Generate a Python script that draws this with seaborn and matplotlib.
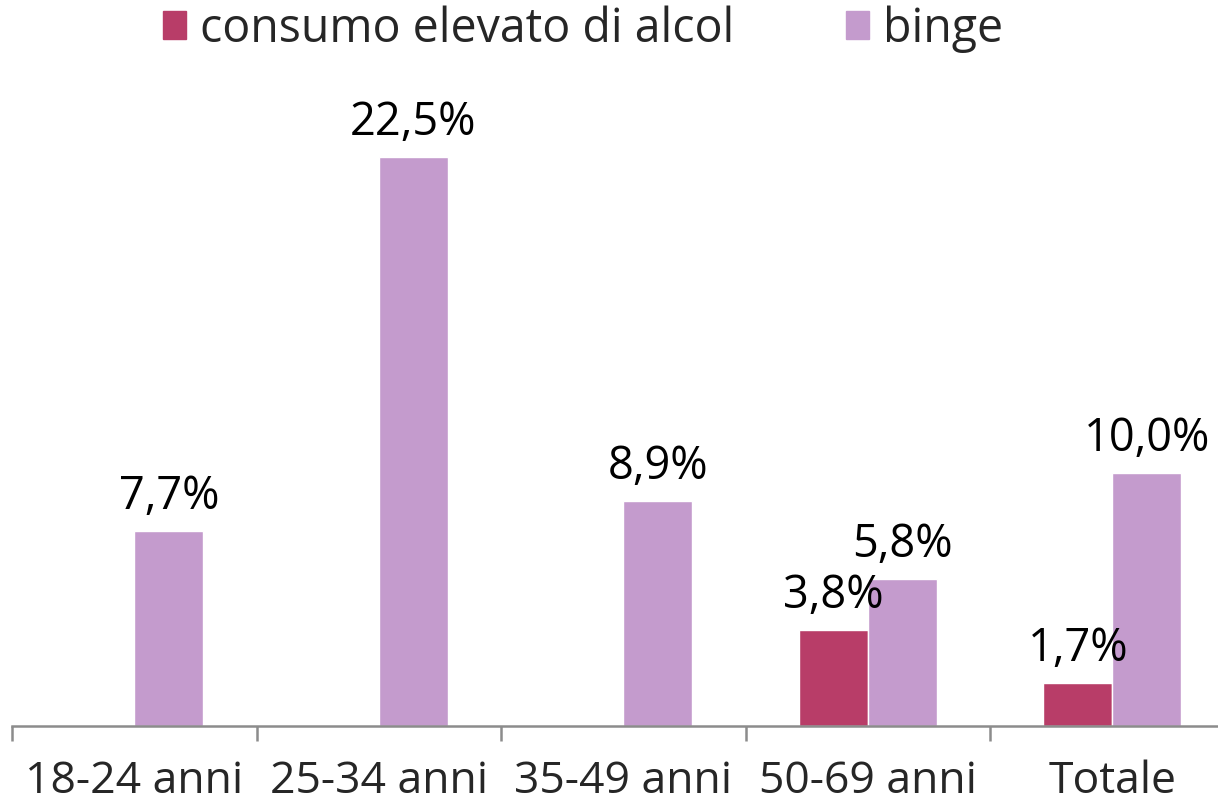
import pandas as pd
import seaborn as sns
import matplotlib.pyplot as plt
import numpy as np

# Data
categories = ['18-24 anni', '25-34 anni', '35-49 anni', '50-69 anni', 'Totale']
consumo = [np.nan, np.nan, np.nan, 3.8, 1.7]
binge = [7.7, 22.5, 8.9, 5.8, 10.0]
series_names = ['consumo elevato di alcol', 'binge']
colors = ['#B83D68', '#C49BCD']

sns.set_style("white")
plt.rcParams['font.family'] = ['Open Sans', 'DejaVu Sans']

df = pd.DataFrame({
    'classe': categories * 2,
    'serie': [series_names[0]] * len(categories) + [series_names[1]] * len(categories),
    'valore': consumo + binge,
}).dropna()

fig = plt.figure(figsize=(12.18, 8.07), dpi=100)
ax = fig.add_axes([12 / 1218, 81 / 807, 1222.5 / 1218, 632.2 / 807])

sns.barplot(data=df, x='classe', y='valore', hue='serie', order=categories,
            hue_order=series_names, palette=colors, width=0.565,
            saturation=1, errorbar=None, ax=ax)

for cont in ax.containers:
    ax.bar_label(cont, fmt=lambda v: f"{v:.1f}%".replace('.', ','),
                 padding=8, fontsize=32.5, color='black')

ax.set_xlim(-0.5, len(categories) - 0.5)
ax.set_ylim(0, 25)
ax.set_xlabel('')
ax.set_ylabel('')
ax.set_yticks([])

for s in ['top', 'right', 'left']:
    ax.spines[s].set_visible(False)
ax.spines['bottom'].set_color('#8C8C8C')
ax.spines['bottom'].set_linewidth(1.8)

ax.set_xticks(range(len(categories)))
ax.set_xticklabels(categories, fontsize=32)
ax.set_xticks(np.arange(-0.5, len(categories)), minor=True)
ax.tick_params(axis='x', which='major', length=0, pad=24)
ax.tick_params(axis='x', which='minor', bottom=True, direction='out',
               length=11, width=1.8, color='#8C8C8C')

ax.legend_.remove()
handles = [plt.Rectangle((0, 0), 1, 1, color=c) for c in colors]
fig.legend(handles, series_names, loc='center', bbox_to_anchor=(583 / 1218, 1 - 29 / 807),
           ncol=2, frameon=False, fontsize=33.5, handlelength=0.5, handleheight=0.55,
           handletextpad=0.3, columnspacing=2.4, borderaxespad=0, borderpad=0)

fig.savefig('out.png', dpi=100)
